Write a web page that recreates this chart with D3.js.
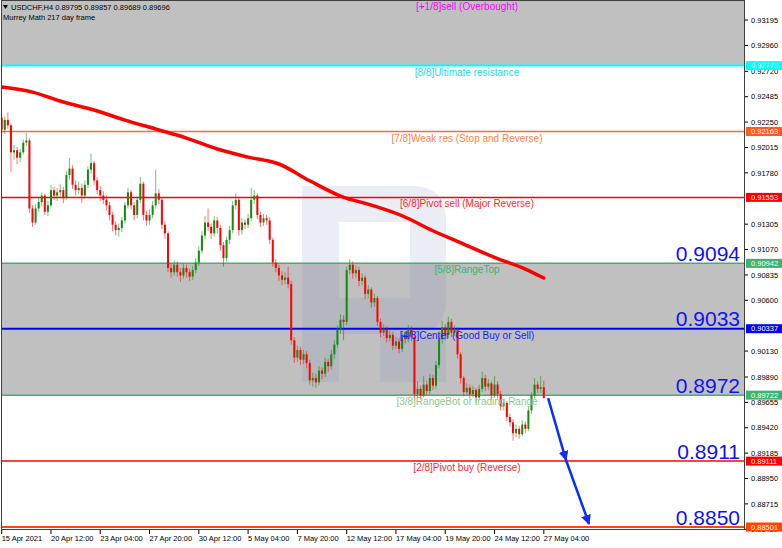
<!DOCTYPE html>
<html><head><meta charset="utf-8">
<script src="https://cdn.jsdelivr.net/npm/d3@7"></script>
<style>body{margin:0;background:#fff;} svg{display:block;font-family:"Liberation Sans",Arial,sans-serif;}</style>
</head><body><svg id="c" width="782" height="548"></svg>
<script>
const symbolInfo = "USDCHF,H4  0.89795 0.89857 0.89689 0.89696";
const indicatorName = "Murrey Math 217 day frame";
const levelValues = [0.93383, 0.92773, 0.92163, 0.91553, 0.90942, 0.90337, 0.89722, 0.89111, 0.88501];
const levelBoxText = ["", "0.92773", "0.92163", "0.91553", "0.90942", "0.90337", "0.89722", "0.89111", "0.88501"];
const levelNames = ["[+1/8]sell (Overbought)", "[8/8]Ultimate resistance", "[7/8]Weak res (Stop and Reverse)", "[6/8]Pivot sell (Major Reverse)", "[5/8]RangeTop", "[4/8]Center (Good Buy or Sell)", "[3/8]RangeBot or trading Range", "[2/8]Pivot buy (Reverse)", "[1/8]Weak sup (Stop and Reverse)"];
const bigLabels = ["0.9094", "0.9033", "0.8972", "0.8911", "0.8850"];
const bigLabelValues = [0.90942, 0.90337, 0.89722, 0.89111, 0.88501];
const priceTicks = [0.93195, 0.92960, 0.92720, 0.92485, 0.92250, 0.92015, 0.91780, 0.91305, 0.91070, 0.90835, 0.90600, 0.90130, 0.89890, 0.89655, 0.89420, 0.89185, 0.88950, 0.88715, 0.88480];
const dateTickIndex = [0, 16, 32, 48, 64, 80, 96, 112, 128, 144, 160, 176];
const dateTickLabels = ["15 Apr 2021", "20 Apr 12:00", "23 Apr 04:00", "27 Apr 20:00", "30 Apr 12:00", "5 May 04:00", "7 May 20:00", "12 May 12:00", "17 May 04:00", "19 May 20:00", "24 May 12:00", "27 May 04:00"];
const opens = [0.9229,0.9218,0.9227,0.9222,0.9197,0.9199,0.9192,0.9197,0.9206,0.9208,
0.9145,0.9132,0.9145,0.9151,0.9157,0.9142,0.9148,0.9162,0.9157,0.9160,
0.9162,0.9155,0.9176,0.9182,0.9167,0.9162,0.9164,0.9157,0.9167,0.9181,
0.9187,0.9171,0.9162,0.9157,0.9153,0.9148,0.9139,0.9130,0.9125,0.9127,
0.9134,0.9148,0.9160,0.9148,0.9139,0.9153,0.9168,0.9139,0.9134,0.9139,
0.9148,0.9159,0.9153,0.9130,0.9122,0.9090,0.9086,0.9093,0.9086,0.9083,
0.9090,0.9086,0.9082,0.9088,0.9095,0.9106,0.9120,0.9132,0.9128,0.9122,
0.9134,0.9127,0.9111,0.9099,0.9116,0.9125,0.9148,0.9153,0.9125,0.9132,
0.9130,0.9136,0.9153,0.9157,0.9139,0.9132,0.9136,0.9134,0.9116,0.9095,
0.9090,0.9083,0.9079,0.9081,0.9075,0.9023,0.9007,0.9014,0.9005,0.9010,
0.9002,0.8986,0.8988,0.8984,0.8995,0.8992,0.9003,0.8999,0.9010,0.9019,
0.9033,0.9042,0.9040,0.9088,0.9093,0.9085,0.9088,0.9078,0.9081,0.9066,
0.9070,0.9058,0.9062,0.9040,0.9030,0.9033,0.9025,0.9028,0.9018,0.9022,
0.9015,0.9028,0.9024,0.9033,0.9026,0.8973,0.8978,0.8972,0.8982,0.8976,
0.8988,0.8981,0.9000,0.9024,0.9035,0.9028,0.9040,0.9030,0.9033,0.9010,
0.8988,0.8975,0.8979,0.8973,0.8977,0.8970,0.8978,0.8988,0.8980,0.8983,
0.8972,0.8982,0.8973,0.8962,0.8965,0.8952,0.8947,0.8937,0.8941,0.8936,
0.8945,0.8941,0.8958,0.8972,0.8982,0.8978,0.89795];
const highs = [0.9232,0.9230,0.9234,0.9224,0.9204,0.9202,0.9200,0.9209,0.9215,0.9210,
0.9148,0.9149,0.9155,0.9160,0.9159,0.9152,0.9167,0.9165,0.9164,0.9168,
0.9165,0.9180,0.9192,0.9185,0.9171,0.9170,0.9168,0.9171,0.9184,0.9196,
0.9189,0.9174,0.9166,0.9161,0.9157,0.9151,0.9142,0.9133,0.9131,0.9137,
0.9151,0.9164,0.9162,0.9151,0.9156,0.9174,0.9170,0.9143,0.9144,0.9152,
0.9181,0.9163,0.9155,0.9133,0.9124,0.9095,0.9097,0.9096,0.9090,0.9094,
0.9093,0.9089,0.9092,0.9099,0.9110,0.9124,0.9138,0.9145,0.9131,0.9138,
0.9137,0.9130,0.9114,0.9119,0.9129,0.9152,0.9159,0.9155,0.9136,0.9135,
0.9140,0.9164,0.9162,0.9159,0.9142,0.9140,0.9139,0.9137,0.9118,0.9098,
0.9093,0.9087,0.9086,0.9091,0.9078,0.9026,0.9018,0.9017,0.9014,0.9013,
0.9005,0.8993,0.8992,0.8999,0.8998,0.9007,0.9006,0.9014,0.9023,0.9037,
0.9047,0.9046,0.9091,0.9098,0.9096,0.9092,0.9091,0.9085,0.9083,0.9074,
0.9072,0.9066,0.9064,0.9043,0.9038,0.9036,0.9032,0.9031,0.9026,0.9025,
0.9032,0.9031,0.9037,0.9036,0.9029,0.8985,0.8981,0.8990,0.8985,0.8992,
0.8991,0.9004,0.9028,0.9041,0.9038,0.9045,0.9043,0.9037,0.9035,0.9012,
0.8990,0.8983,0.8982,0.8981,0.8979,0.8982,0.8994,0.8991,0.8987,0.8985,
0.8990,0.8985,0.8976,0.8969,0.8967,0.8955,0.8950,0.8945,0.8944,0.8949,
0.8948,0.8961,0.8975,0.8988,0.8985,0.8990,0.89857];
const lows = [0.9212,0.9214,0.9219,0.9179,0.9190,0.9186,0.9188,0.9195,0.9203,0.9141,
0.9128,0.9130,0.9142,0.9147,0.9139,0.9138,0.9146,0.9153,0.9152,0.9156,
0.9150,0.9153,0.9172,0.9163,0.9157,0.9158,0.9150,0.9154,0.9164,0.9177,
0.9167,0.9158,0.9152,0.9149,0.9143,0.9134,0.9124,0.9120,0.9119,0.9123,
0.9131,0.9145,0.9144,0.9134,0.9136,0.9150,0.9134,0.9129,0.9130,0.9136,
0.9145,0.9149,0.9126,0.9117,0.9086,0.9081,0.9083,0.9082,0.9077,0.9080,
0.9081,0.9078,0.9079,0.9085,0.9092,0.9103,0.9117,0.9124,0.9117,0.9119,
0.9122,0.9106,0.9091,0.9096,0.9112,0.9122,0.9144,0.9120,0.9121,0.9126,
0.9127,0.9133,0.9149,0.9135,0.9128,0.9129,0.9130,0.9112,0.9091,0.9086,
0.9078,0.9074,0.9075,0.9071,0.9019,0.9002,0.9003,0.9000,0.9001,0.8997,
0.8982,0.8980,0.8979,0.8981,0.8987,0.8989,0.8994,0.8996,0.9006,0.9016,
0.9029,0.9023,0.9037,0.9084,0.9080,0.9081,0.9073,0.9074,0.9061,0.9062,
0.9053,0.9054,0.9036,0.9026,0.9027,0.9021,0.9022,0.9014,0.9015,0.9011,
0.9012,0.9020,0.9021,0.9022,0.8967,0.8969,0.8968,0.8970,0.8972,0.8973,
0.8977,0.8978,0.8997,0.9020,0.9023,0.9025,0.9026,0.9027,0.9006,0.8983,
0.8971,0.8972,0.8969,0.8970,0.8965,0.8968,0.8975,0.8976,0.8977,0.8968,
0.8970,0.8969,0.8958,0.8958,0.8948,0.8943,0.8930,0.8933,0.8932,0.8934,
0.8937,0.8939,0.8955,0.8969,0.8974,0.8974,0.89689];
const closes = [0.9218,0.9227,0.9222,0.9197,0.9199,0.9192,0.9197,0.9206,0.9208,0.9145,
0.9132,0.9145,0.9151,0.9157,0.9142,0.9148,0.9162,0.9157,0.9160,0.9162,
0.9155,0.9176,0.9182,0.9167,0.9162,0.9164,0.9157,0.9167,0.9181,0.9187,
0.9171,0.9162,0.9157,0.9153,0.9148,0.9139,0.9130,0.9125,0.9127,0.9134,
0.9148,0.9160,0.9148,0.9139,0.9153,0.9168,0.9139,0.9134,0.9139,0.9148,
0.9159,0.9153,0.9130,0.9122,0.9090,0.9086,0.9093,0.9086,0.9083,0.9090,
0.9086,0.9082,0.9088,0.9095,0.9106,0.9120,0.9132,0.9128,0.9122,0.9134,
0.9127,0.9111,0.9099,0.9116,0.9125,0.9148,0.9153,0.9125,0.9132,0.9130,
0.9136,0.9153,0.9157,0.9139,0.9132,0.9136,0.9134,0.9116,0.9095,0.9090,
0.9083,0.9079,0.9081,0.9075,0.9023,0.9007,0.9014,0.9005,0.9010,0.9002,
0.8986,0.8988,0.8984,0.8995,0.8992,0.9003,0.8999,0.9010,0.9019,0.9033,
0.9042,0.9040,0.9088,0.9093,0.9085,0.9088,0.9078,0.9081,0.9066,0.9070,
0.9058,0.9062,0.9040,0.9030,0.9033,0.9025,0.9028,0.9018,0.9022,0.9015,
0.9028,0.9024,0.9033,0.9026,0.8973,0.8978,0.8972,0.8982,0.8976,0.8988,
0.8981,0.9000,0.9024,0.9035,0.9028,0.9040,0.9030,0.9033,0.9010,0.8988,
0.8975,0.8979,0.8973,0.8977,0.8970,0.8978,0.8988,0.8980,0.8983,0.8972,
0.8982,0.8973,0.8962,0.8965,0.8952,0.8947,0.8937,0.8941,0.8936,0.8945,
0.8941,0.8958,0.8972,0.8982,0.8978,0.89795,0.89696];
const maIndex = [0, 10, 20, 30, 40, 50, 60, 70, 80, 90, 100, 110, 120, 130, 140, 150, 160, 170, 176];
const maValues = [0.92575, 0.92528, 0.92436, 0.92362, 0.92269, 0.92186, 0.92102, 0.92001, 0.91926, 0.91862, 0.91707, 0.91565, 0.91482, 0.91383, 0.91244, 0.91121, 0.90997, 0.90889, 0.90806];
const forecastIndex = [177.4, 183.2, 190.7];
const forecastValues = [0.89695, 0.89121, 0.88529];

const svg = d3.select("#c");
const W = 782, H = 548, plotL = 1, plotR = 745, plotT = 0, plotB = 530;
const x = d3.scaleLinear().domain([0, 176]).range([1.7, 543.8]);
const y = d3.scaleLinear().domain([0.92163, 0.88501]).range([131.5, 527]);
const levelLine = ["#ff00ff", "#00ffff", "#ff6a33", "#ff0000", "#3cb371", "#0000ff", "#3cb371", "#ff0000", "#ff4500"];
const levelText = ["#ff00ff", "#22dde8", "#ff7f50", "#ff2a2a", "#3cb371", "#1a1aff", "#8cc98c", "#ff2a2a", "#ff4500"];
const levelWidth = [1, 2, 1.5, 1.5, 1.5, 2, 1.5, 1.5, 2];

svg.append("defs").append("clipPath").attr("id", "plot").append("rect")
  .attr("x", plotL).attr("y", plotT).attr("width", plotR - plotL).attr("height", plotB - plotT);
const g = svg.append("g").attr("clip-path", "url(#plot)");
g.append("rect").attr("x", plotL).attr("width", plotR - plotL).attr("y", y(levelValues[0])).attr("height", y(levelValues[1]) - y(levelValues[0])).attr("fill", "#c0c0c0");
g.append("rect").attr("x", plotL).attr("width", plotR - plotL).attr("y", y(levelValues[4])).attr("height", y(levelValues[6]) - y(levelValues[4])).attr("fill", "#c0c0c0");
// watermark
g.append("path").attr("fill", "#6f84ad").attr("opacity", 0.15).attr("fill-rule", "evenodd")
  .attr("d", "M302,186 L412,186 Q446,186 446,220 L446,300 Q446,334 412,334 L446,334 L446,382 L380,382 L380,334 L339,334 L339,382 L302,382 Z M339,222 L410,222 L410,298 L339,298 Z");
levelValues.forEach((v, i) => {
  g.append("line").attr("x1", plotL).attr("x2", plotR).attr("y1", y(v)).attr("y2", y(v))
    .attr("stroke", levelLine[i]).attr("stroke-width", levelWidth[i]);
});
// candles
const cg = g.append("g");
closes.forEach((c, i) => {
  const o = opens[i];
  const up = c >= o;
  const col = up ? "#138a13" : "#ff0000";
  cg.append("line").attr("x1", x(i)).attr("x2", x(i)).attr("y1", y(highs[i])).attr("y2", y(lows[i]))
    .attr("stroke", col).attr("stroke-width", 1).attr("opacity", 0.55);
  const top = y(Math.max(o, c)), bot = y(Math.min(o, c));
  cg.append("rect").attr("x", x(i) - 1).attr("width", 2).attr("y", top).attr("height", Math.max(1, bot - top)).attr("fill", col);
});
g.append("path").datum(maIndex.map((d, i) => [d, maValues[i]]))
  .attr("d", d3.line().x(d => x(d[0])).y(d => y(d[1])).curve(d3.curveMonotoneX))
  .attr("fill", "none").attr("stroke", "#ff0000").attr("stroke-width", 3.5).attr("stroke-linecap", "round");
levelValues.forEach((v, i) => {
  g.append("text").attr("x", 467).attr("y", y(v) + 10).attr("text-anchor", "middle")
    .attr("font-size", 10).attr("fill", levelText[i]).text(levelNames[i]);
});
bigLabels.forEach((t, i) => {
  g.append("text").attr("x", 740).attr("y", y(bigLabelValues[i]) - 2.5).attr("text-anchor", "end")
    .attr("font-size", 21).attr("fill", "#1010ff").text(t);
});
const defs = svg.select("defs");
defs.append("marker").attr("id", "ah").attr("viewBox", "0 0 10 10").attr("refX", 9).attr("refY", 5)
  .attr("markerWidth", 4).attr("markerHeight", 4).attr("orient", "auto")
  .append("path").attr("d", "M0,0 L10,5 L0,10 Z").attr("fill", "#0a2eff");
for (let k = 0; k < forecastIndex.length - 1; k++) {
  g.append("line").attr("x1", x(forecastIndex[k])).attr("y1", y(forecastValues[k]))
    .attr("x2", x(forecastIndex[k + 1])).attr("y2", y(forecastValues[k + 1]))
    .attr("stroke", "#0a2eff").attr("stroke-width", 2.5).attr("marker-end", "url(#ah)");
}
svg.append("rect").attr("x", plotL + 0.5).attr("y", plotT + 0.5).attr("width", plotR - plotL - 1).attr("height", plotB - plotT - 1)
  .attr("fill", "none").attr("stroke", "#404040").attr("stroke-width", 1);
svg.append("path").attr("d", "M3,5 L8,5 L5.5,9 Z").attr("fill", "#000");
svg.append("text").attr("x", 11).attr("y", 9.5).attr("font-size", 7.5).attr("fill", "#000").text(symbolInfo);
svg.append("text").attr("x", 3).attr("y", 19.5).attr("font-size", 7.5).attr("fill", "#000").text(indicatorName);
const ra = svg.append("g");
priceTicks.forEach(p => {
  ra.append("line").attr("x1", plotR).attr("x2", plotR + 3).attr("y1", y(p)).attr("y2", y(p)).attr("stroke", "#000");
  ra.append("text").attr("x", plotR + 6).attr("y", y(p) + 2.7).attr("font-size", 7.5).attr("fill", "#000").text(p.toFixed(5));
});
const boxCol = [null, "#00ffff", "#ff5a1f", "#ff0000", "#3cb371", "#0000ff", "#3cb371", "#ff0000", "#ff4500"];
levelValues.forEach((v, i) => {
  if (!levelBoxText[i]) return;
  ra.append("rect").attr("x", plotR + 1).attr("y", y(v) - 4.5).attr("width", W - plotR - 1).attr("height", 9).attr("fill", boxCol[i]);
  ra.append("text").attr("x", plotR + 6).attr("y", y(v) + 2.7).attr("font-size", 7.5).attr("fill", "#fff").text(levelBoxText[i]);
});
dateTickIndex.forEach((d, i) => {
  svg.append("line").attr("x1", x(d)).attr("x2", x(d)).attr("y1", plotB).attr("y2", plotB + 4).attr("stroke", "#000");
  svg.append("text").attr("x", x(d)).attr("y", 541).attr("font-size", 7.5).attr("fill", "#000").text(dateTickLabels[i]);
});
</script></body></html>
